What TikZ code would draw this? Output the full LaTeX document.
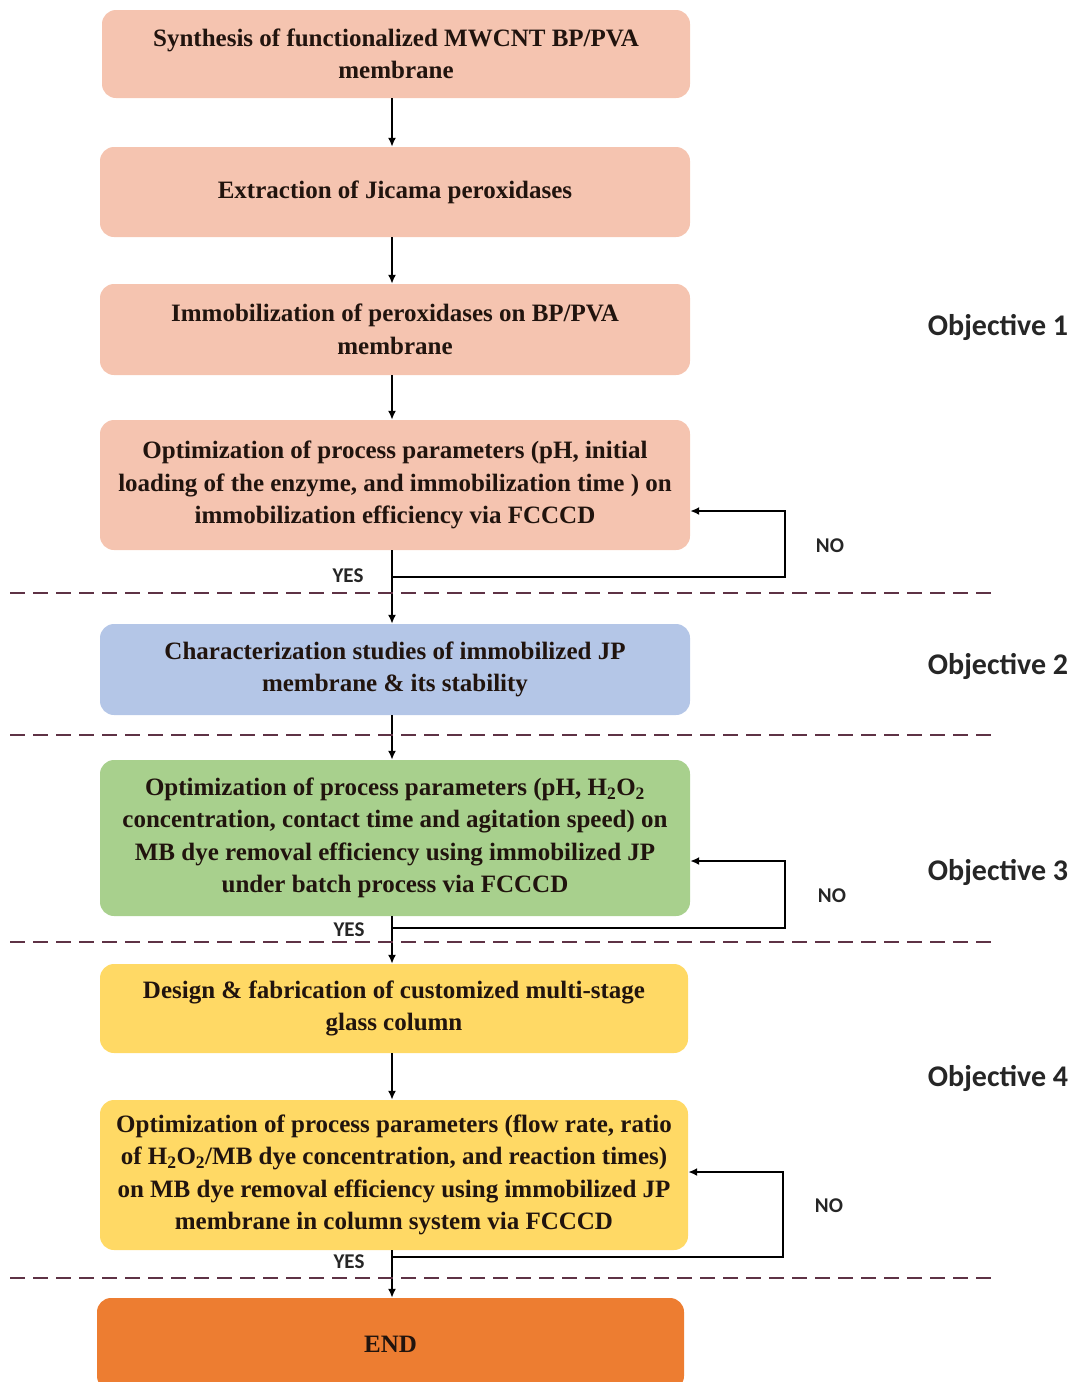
\documentclass[tikz,border=0pt]{standalone}
\usepackage{fontspec}
\setmainfont{Liberation Serif}
\newfontfamily\labelfont{Carlito}
\usetikzlibrary{arrows.meta}

\definecolor{salmon}{HTML}{F5C4B0}
\definecolor{paleblue}{HTML}{B4C6E7}
\definecolor{palegreen}{HTML}{A8D08D}
\definecolor{paleyellow}{HTML}{FFD965}
\definecolor{endorange}{HTML}{ED7D31}
\definecolor{inkdark}{HTML}{21140E}
\definecolor{divider}{HTML}{5E3245}

\tikzset{
  stepbox/.style={rounded corners=14pt, inner sep=0pt, align=center,
    text=inkdark, font=\bfseries\fontsize{25}{32.5}\selectfont},
  arr/.style={line width=2.4pt, -{Latex[length=9pt,width=8pt]}},
  loopline/.style={line width=2.8pt},
  divline/.style={divider, line width=2.8pt, dash pattern=on 15pt off 8pt},
  objlabel/.style={font=\labelfont\bfseries\fontsize{30}{34}\selectfont, text=black!85},
  answer/.style={font=\labelfont\bfseries\fontsize{21}{24}\selectfont, text=black!85},
}

\begin{document}
\begin{tikzpicture}[x=1pt,y=-1pt]
  \useasboundingbox (0,0) rectangle (1078,1382);

  % steps
  \node[stepbox, fill=salmon, minimum width=588pt, minimum height=88pt] (s1) at (396,54)
    {Synthesis of functionalized MWCNT BP/PVA\\membrane};
  \node[stepbox, fill=salmon, minimum width=590pt, minimum height=90pt] (s2) at (395,192)
    {Extraction of Jicama peroxidases};
  \node[stepbox, fill=salmon, minimum width=590pt, minimum height=91pt] (s3) at (395,329.5)
    {Immobilization of peroxidases on BP/PVA\\membrane};
  \node[stepbox, fill=salmon, minimum width=590pt, minimum height=130pt] (s4) at (395,485)
    {Optimization of process parameters (pH, initial\\loading of the enzyme, and immobilization time ) on\\immobilization efficiency via FCCCD};
  \node[stepbox, fill=paleblue, minimum width=590pt, minimum height=91pt] (s5) at (395,669.5)
    {Characterization studies of immobilized JP\\membrane \& its stability};
  \node[stepbox, fill=palegreen, minimum width=590pt, minimum height=156pt] (s6) at (395,838)
    {Optimization of process parameters (pH, H\textsubscript{2}O\textsubscript{2}\\concentration, contact time and agitation speed) on\\MB dye removal efficiency using immobilized JP\\under batch process via FCCCD};
  \node[stepbox, fill=paleyellow, minimum width=588pt, minimum height=89pt] (s7) at (394,1008.5)
    {Design \& fabrication of customized multi-stage\\glass column};
  \node[stepbox, fill=paleyellow, minimum width=588pt, minimum height=150pt] (s8) at (394,1175)
    {Optimization of process parameters (flow rate, ratio\\of H\textsubscript{2}O\textsubscript{2}/MB dye concentration, and reaction times)\\on MB dye removal efficiency using immobilized JP\\membrane in column system via FCCCD};
  \node[stepbox, fill=endorange, minimum width=587pt, minimum height=92pt] (s9) at (390.5,1344)
    {END};

  % spine and loop corners
  \coordinate (spine) at (392,0);
  \coordinate (y1) at (392,577);
  \coordinate (y2) at (392,928);
  \coordinate (y3) at (392,1257);
  \coordinate (r1) at (785,511);
  \coordinate (r2) at (785,861);
  \coordinate (r3) at (783,1172);

  % forward arrows
  \draw[arr] (s1.south -| spine) -- (s2.north -| spine);
  \draw[arr] (s2.south -| spine) -- (s3.north -| spine);
  \draw[arr] (s3.south -| spine) -- (s4.north -| spine);
  \draw[arr] (s4.south -| spine) -- (s5.north -| spine);
  \draw[arr] (s5.south -| spine) -- (s6.north -| spine);
  \draw[arr] (s6.south -| spine) -- (s7.north -| spine);
  \draw[arr] (s7.south -| spine) -- (s8.north -| spine);
  \draw[arr] (s8.south -| spine) -- (s9.north -| spine);

  % feedback loops
  \draw[loopline, -{Latex[length=9pt,width=8pt]}] (y1) -| (r1) -- (r1 -| s4.east);
  \draw[loopline, -{Latex[length=9pt,width=8pt]}] (y2) -| (r2) -- (r2 -| s6.east);
  \draw[loopline, -{Latex[length=9pt,width=8pt]}] (y3) -| (r3) -- (r3 -| s8.east);

  \node[answer] (yes1) at (348,576) {YES};
  \node[answer] (yes2) at (349,930) {YES};
  \node[answer] (yes3) at (349,1262) {YES};
  \node[answer] (no1) at (830,546) {NO};
  \node[answer] (no2) at (832,896) {NO};
  \node[answer] (no3) at (829,1206) {NO};

  % objective dividers
  \coordinate (d1) at (10,593);
  \coordinate (d2) at (10,735);
  \coordinate (d3) at (10,942);
  \coordinate (d4) at (10,1278);
  \draw[divline] (d1) -- +(988,0);
  \draw[divline] (d2) -- +(988,0);
  \draw[divline] (d3) -- +(988,0);
  \draw[divline] (d4) -- +(988,0);

  \node[objlabel] (o1) at (998,327) {Objective 1};
  \node[objlabel] (o2) at (998,666) {Objective 2};
  \node[objlabel] (o3) at (998,872) {Objective 3};
  \node[objlabel] (o4) at (998,1078) {Objective 4};
\end{tikzpicture}
\end{document}
